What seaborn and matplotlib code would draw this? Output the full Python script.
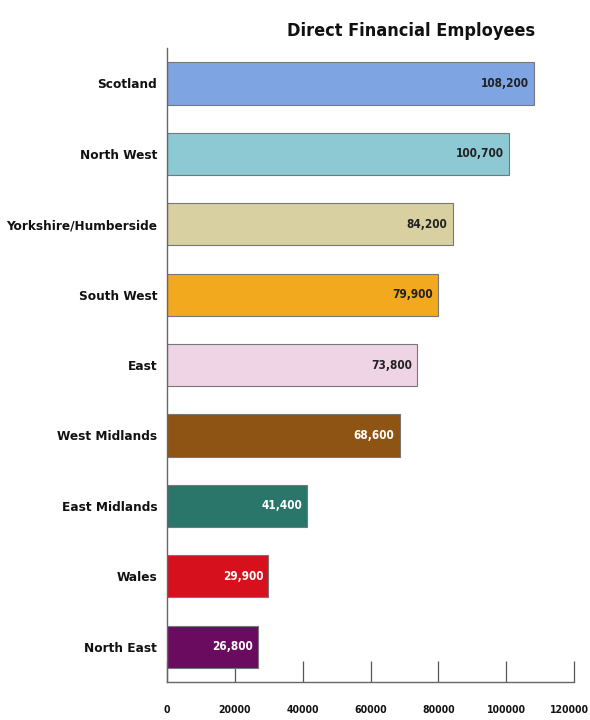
import matplotlib
matplotlib.use("Agg")
import matplotlib.pyplot as plt
import matplotlib.transforms as mtransforms
import seaborn as sns
import pandas as pd

regions = ["Scotland", "North West", "Yorkshire/Humberside", "South West", "East",
           "West Midlands", "East Midlands", "Wales", "North East"]
employees = [108200, 100700, 84200, 79900, 73800, 68600, 41400, 29900, 26800]
value_labels = ["108,200", "100,700", "84,200", "79,900", "73,800", "68,600",
                "41,400", "29,900", "26,800"]
colors = ["#7FA4E2", "#8DC9D2", "#D9D0A2", "#F3A91E", "#EED4E4", "#8E5413",
          "#2A766B", "#D6101C", "#6B0B5F"]
text_colors = ["#222222", "#222222", "#222222", "#222222", "#222222",
               "white", "white", "white", "white"]
x_ticks = [0, 20000, 40000, 60000, 80000, 100000, 120000]
title = "Direct Financial Employees"

sns.set_theme(style="white")
plt.rcParams['font.family'] = ['DejaVu Sans']

df = pd.DataFrame({"region": regions, "employees": employees})

fig = plt.figure(figsize=(5.9, 7.2), dpi=100)
ax = fig.add_axes([0.283, 0.053, 0.69, 0.880])
sns.barplot(data=df, x="employees", y="region", hue="region", palette=colors,
            order=regions, hue_order=regions, legend=False, width=0.6,
            saturation=1, edgecolor="#777777", linewidth=0.8, ax=ax)

for i, (v, lab, tc) in enumerate(zip(employees, value_labels, text_colors)):
    ax.text(v - 1500, i, lab, ha="right", va="center", color=tc,
            fontsize=8.5, fontweight="bold", fontstretch="condensed")

ax.set_xlim(0, 120000)
ax.set_ylim(8.5, -0.5)
ax.set_xticks(x_ticks)
ax.set_xticklabels([str(t) for t in x_ticks], fontsize=7.5, fontweight="bold",
                   fontstretch="condensed", color="#111111")
ax.tick_params(axis="x", direction="in", length=15, width=0.9, color="#555555",
               pad=17, bottom=True)
ax.tick_params(axis="y", length=0, pad=7)
last = ax.get_xticklabels()[-1]
last.set_transform(last.get_transform() +
                   mtransforms.ScaledTranslation(-5 / 100, 0, fig.dpi_scale_trans))
for lbl in ax.get_yticklabels():
    lbl.set_fontsize(9.7)
    lbl.set_fontweight("bold")
    lbl.set_fontstretch("condensed")
    lbl.set_color("#111111")
ax.set_xlabel("")
ax.set_ylabel("")
for s in ["top", "right"]:
    ax.spines[s].set_visible(False)
for s in ["left", "bottom"]:
    ax.spines[s].set_color("#666666")
    ax.spines[s].set_linewidth(1.0)

fig.text(0.907, 0.957, title, ha="right", va="center", fontsize=13,
         fontweight="bold", fontstretch="condensed", color="#111111")

fig.savefig("out.png", dpi=100, facecolor="white")
